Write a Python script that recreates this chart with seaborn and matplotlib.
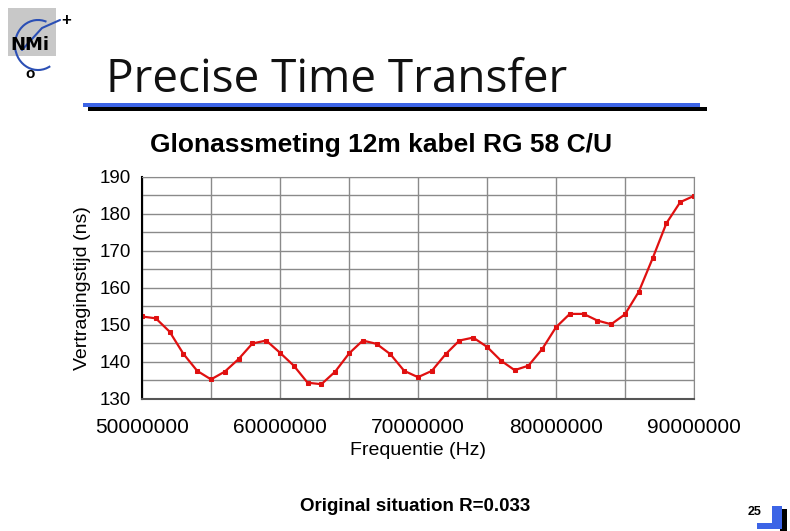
import matplotlib
matplotlib.use("Agg")
import matplotlib.pyplot as plt
import matplotlib.patches as patches
from matplotlib.ticker import MultipleLocator, FuncFormatter
import seaborn as sns
import pandas as pd

# data
freq_mhz = list(range(50, 91))
delay_ns = [152.3, 151.8, 148.2, 142.2, 137.6, 135.3, 137.4, 140.8, 145.0, 145.8,
            142.5, 139.0, 134.4, 134.0, 137.4, 142.3, 145.8, 144.9, 142.1, 137.6,
            135.9, 137.6, 142.1, 145.8, 146.6, 144.1, 140.4, 137.8, 139.0, 143.5,
            149.4, 153.0, 153.0, 151.2, 150.2, 152.9, 159.0, 168.0, 177.5, 183.2,
            184.9]
df = pd.DataFrame({"freq": [f * 1e6 for f in freq_mhz], "delay": delay_ns})

sns.set_style("whitegrid")
plt.rcParams['font.family'] = ['Liberation Sans', 'DejaVu Sans']
plt.rcParams['text.color'] = 'black'
plt.rcParams['axes.labelcolor'] = 'black'
plt.rcParams['xtick.labelcolor'] = 'black'
plt.rcParams['ytick.labelcolor'] = 'black'

W, H = 790, 531
fig = plt.figure(figsize=(W / 100, H / 100), dpi=100)

# overlay in pixel coords for slide decoration
deco = fig.add_axes([0, 0, 1, 1])
deco.set_xlim(0, W)
deco.set_ylim(H, 0)
deco.axis('off')

# logo
deco.add_patch(patches.Rectangle((8, 8), 48, 48, facecolor='#c8c8c8', edgecolor='none'))
deco.text(30, 50, "NMi", fontsize=13, fontweight='bold', ha='center', va='baseline',
          family='DejaVu Sans')
deco.add_patch(patches.Arc((38, 45), 46, 50, theta1=60, theta2=290, color='#2b4fb5', lw=1.5))
deco.plot([22, 42, 60], [50, 28, 20], color='#2b4fb5', lw=1.5)
deco.text(66, 20, "+", fontsize=12, fontweight='bold', ha='center', va='center')
deco.text(30, 74, "o", fontsize=11, fontweight='bold', ha='center', va='center')

# slide title + underline
deco.text(106, 92, "Precise Time Transfer", fontsize=33, ha='left', va='baseline',
          family='Open Sans', color='#111111')
deco.add_patch(patches.Rectangle((88, 107), 619, 4, facecolor='black', edgecolor='none'))
deco.add_patch(patches.Rectangle((83, 103), 617, 4, facecolor='#3c64e6', edgecolor='none'))

# chart title and footer
deco.text(381, 152, "Glonassmeting 12m kabel RG 58 C/U", fontsize=19, fontweight='bold',
          ha='center', va='baseline')
deco.text(415, 511, "Original situation R=0.033", fontsize=13.5, fontweight='bold',
          ha='center', va='baseline')
deco.text(755, 515, "25", fontsize=9, fontweight='bold', ha='center', va='baseline')
deco.add_patch(patches.Rectangle((780, 509), 7, 22, facecolor='black', edgecolor='none'))
deco.add_patch(patches.Rectangle((772, 506), 10, 23, facecolor='#3c64e6', edgecolor='none'))
deco.add_patch(patches.Rectangle((757, 523), 25, 6, facecolor='#3c64e6', edgecolor='none'))

# chart
ax = fig.add_axes([142 / W, 1 - 399 / H, (694 - 142) / W, (399 - 177) / H])
sns.lineplot(data=df, x="freq", y="delay", color='#e01010', lw=1.6, marker='s',
             markersize=3.5, markeredgecolor='#e01010', ax=ax)
ax.set_xlim(50e6, 90e6)
ax.set_ylim(130, 190)
ax.xaxis.set_major_locator(MultipleLocator(10e6))
ax.xaxis.set_minor_locator(MultipleLocator(5e6))
ax.yaxis.set_major_locator(MultipleLocator(10))
ax.yaxis.set_minor_locator(MultipleLocator(5))
ax.xaxis.set_major_formatter(FuncFormatter(lambda v, p: f"{int(round(v))}"))
ax.grid(which='both', color='#8a8a8a', lw=1.0)
ax.set_axisbelow(True)
for s in ['top', 'right']:
    ax.spines[s].set_color('#8a8a8a')
ax.spines['bottom'].set_color('#555555')
ax.spines['bottom'].set_linewidth(1.5)
ax.spines['left'].set_color('black')
ax.spines['left'].set_linewidth(1.5)
ax.tick_params(axis='both', which='major', length=4, color='#8a8a8a', direction='out')
ax.tick_params(axis='both', which='minor', length=0)
ax.tick_params(axis='y', labelsize=13.5, pad=4)
ax.tick_params(axis='x', labelsize=15, pad=10)
ax.set_xlabel("Frequentie (Hz)", fontsize=14, labelpad=3)
ax.set_ylabel("Vertragingstijd (ns)", fontsize=14, labelpad=6)

fig.savefig("out.png", dpi=100)
